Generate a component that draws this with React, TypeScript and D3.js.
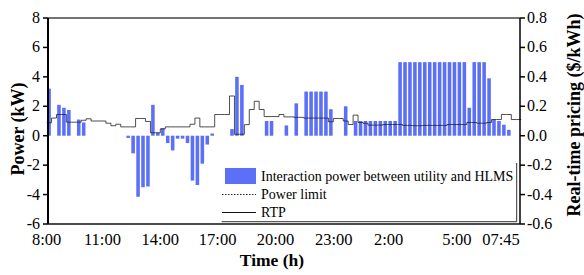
import * as d3 from "d3";
import * as React from "react";

// 96 quarter-hour slots, 8:00 -> 07:45
const slots = d3.range(96);

// interaction power between utility and HEMS (kW), one per slot
const power = [
    3.2, 0, 2.1, 1.9, 1.75, 0, 1.1, 0.9, 0, 0,
    0, 0, 0, 0, 0, 0, -0.15, -1.2, -4.15, -3.5,
    -3.45, 2.1, 0.2, 0.5, -0.5, -1.0, -0.2, -0.2, -0.5, -3.05,
    -3.35, -1.9, -0.6, 0.15, 0, 0, 0, 0.45, 4.0, 3.45,
    0, 0, 0, 0, 1.0, 1.0, 0, 0, 0.7, 0,
    2.2, 0, 3.0, 3.0, 3.0, 3.0, 3.0, 1.8, 0, 0,
    2.0, 0, 1.0, 1.0, 1.0, 1.0, 1.0, 1.0, 1.0, 1.0,
    1.0, 5.0, 5.0, 5.0, 5.0, 5.0, 5.0, 5.0, 5.0, 5.0,
    5.0, 5.0, 5.0, 5.0, 5.0, 1.9, 5.0, 5.0, 5.0, 3.9,
    1.1, 1.0, 0.75, 0.4, 0, 0,
];

// real-time price ($/kWh), one per slot
const rtp = [
    0.088, 0.12, 0.144, 0.144, 0.092, 0.092, 0.092, 0.105, 0.115, 0.1,
    0.1, 0.1, 0.085, 0.068, 0.078, 0.06, 0.06, 0.06, 0.117, 0.117,
    0.097, 0.02, 0.02, 0.047, 0.06, 0.06, 0.06, 0.06, 0.06, 0.078,
    0.12, 0.06, 0.06, 0.06, 0.144, 0.144, 0.144, 0.27, 0.01, 0.01,
    0.075, 0.178, 0.234, 0.178, 0.13, 0.13, 0.13, 0.144, 0.128, 0.128,
    0.125, 0.125, 0.12, 0.12, 0.12, 0.12, 0.12, 0.095, 0.117, 0.117,
    0.1, 0.076, 0.14, 0.09, 0.085, 0.072, 0.072, 0.072, 0.076, 0.076,
    0.076, 0.076, 0.07, 0.07, 0.068, 0.068, 0.07, 0.07, 0.07, 0.07,
    0.07, 0.076, 0.076, 0.076, 0.076, 0.09, 0.09, 0.085, 0.085, 0.09,
    0.11, 0.11, 0.144, 0.144, 0.11, 0.11,
];

const timeLabels = ["8:00", "11:00", "14:00", "17:00", "20:00", "23:00", "2:00", "5:00", "07:45"];
const timeLabelSlots = [0, 11.3, 23, 34.6, 46.3, 58.1, 69.2, 83, 91.9];

const powerTicks = [-6, -4, -2, 0, 2, 4, 6, 8];
const priceTicks = [-0.6, -0.4, -0.2, 0.0, 0.2, 0.4, 0.6, 0.8];

const W = 584;
const H = 275;
const left = 48;
const right = 520;
const top = 18;
const bottom = 224;
const BLUE = "#5b70f6";
const FONT = "'Liberation Serif', 'Times New Roman', serif";

export default function App(): JSX.Element {
    const x = d3.scaleBand<number>().domain(slots).range([47.3, 520.5]).paddingInner(0.28).paddingOuter(0);
    const step = x.step();
    const gap = step - x.bandwidth();
    const slotStart = (i: number) => (x(0) as number) - gap / 2 + i * step;

    const yPow = d3.scaleLinear().domain([-6, 8]).range([bottom, top]);
    const yPrice = d3.scaleLinear().domain([-0.6, 0.8]).range([bottom, top]);

    const rtpPts: [number, number][] = rtp.map((v, i) => [slotStart(i), yPrice(v)]);
    rtpPts.push([slotStart(rtp.length - 1) + step, yPrice(rtp[rtp.length - 1])]);
    const rtpPath = d3.line().curve(d3.curveStepAfter)(rtpPts) || "";

    return (
        <svg width={W} height={H} style={{ position: "absolute", left: 0, top: 0, background: "#fff" }}
            fontFamily={FONT}>
            {/* bars */}
            <g>
                {power.map((v, i) => v === 0 ? null : (
                    <rect key={i}
                        x={x(i)}
                        width={x.bandwidth()}
                        y={Math.min(yPow(v), yPow(0))}
                        height={Math.abs(yPow(v) - yPow(0))}
                        fill={BLUE} />
                ))}
            </g>
            {/* RTP step line */}
            <path d={rtpPath} fill="none" stroke="#222" strokeWidth={0.8} />

            {/* frame */}
            <line x1={left} x2={right} y1={top} y2={top} stroke="#444" strokeWidth={1.5} />
            <line x1={left} x2={right} y1={bottom} y2={bottom} stroke="#111" strokeWidth={1.5} />
            <line x1={left} x2={left} y1={top} y2={bottom} stroke="#000" strokeWidth={2} />
            <line x1={right} x2={right} y1={top} y2={bottom} stroke="#000" strokeWidth={1.5} />

            {/* left axis */}
            {powerTicks.map(t => (
                <g key={t}>
                    <line x1={left - 5} x2={left} y1={yPow(t)} y2={yPow(t)} stroke="#000" strokeWidth={1.5} />
                    <text x={40} y={yPow(t) + 5} textAnchor="end" fontSize={16}>{t}</text>
                </g>
            ))}
            {/* right axis */}
            {priceTicks.map(t => (
                <g key={t}>
                    <line x1={right} x2={right + 5} y1={yPrice(t)} y2={yPrice(t)} stroke="#000" strokeWidth={1.5} />
                    <text x={527} y={yPrice(t) + 5} textAnchor="start" fontSize={16}>{t.toFixed(1)}</text>
                </g>
            ))}
            {/* x labels */}
            {timeLabels.map((lab, k) => (
                <text key={lab} x={slotStart(timeLabelSlots[k])} y={245} textAnchor="middle" fontSize={16.5}>{lab}</text>
            ))}
            <text x={272} y={265.5} textAnchor="middle" fontSize={17.5} fontWeight="bold">Time (h)</text>
            <text transform={`translate(24,${(top + bottom) / 2 + 8}) rotate(-90)`} textAnchor="middle"
                fontSize={18} fontWeight="bold">Power (kW)</text>
            <text transform={`translate(580,115) rotate(-90)`} textAnchor="middle"
                fontSize={18} fontWeight="bold">Real-time pricing ($/kWh)</text>

            {/* legend */}
            <g>
                <rect x={225} y={168} width={31} height={16} fill={BLUE} />
                <text x={261} y={181} fontSize={14}>Interaction power between utility and HLMS</text>
                <line x1={222} x2={256} y1={194.5} y2={194.5} stroke="#222" strokeWidth={1} strokeDasharray="1.5,1.5" />
                <text x={261} y={199} fontSize={14}>Power limit</text>
                <line x1={222} x2={256} y1={212.5} y2={212.5} stroke="#111" strokeWidth={1} />
                <text x={261} y={217} fontSize={14}>RTP</text>
                <line x1={516.7} x2={516.7} y1={163} y2={221.7} stroke="#333" strokeWidth={1} />
                <line x1={221.7} x2={516.7} y1={221.7} y2={221.7} stroke="#333" strokeWidth={1} />
            </g>
        </svg>
    );
}
